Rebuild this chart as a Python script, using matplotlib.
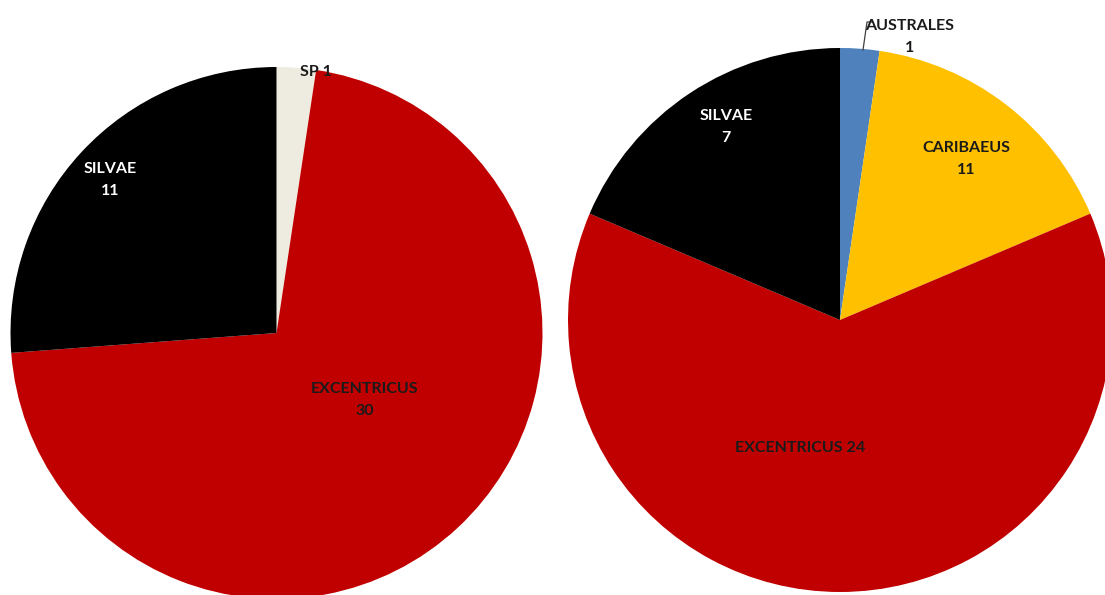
import matplotlib.pyplot as plt

# left pie
left_names = ["SP", "EXCENTRICUS", "SILVAE"]
left_sizes = [1, 30, 11]
left_labels = ["1", "30", "11"]
left_colors = ["#EEECE1", "#C00000", "#000000"]

right_names = ["AUSTRALES", "CARIBAEUS", "EXCENTRICUS", "SILVAE"]
right_sizes = [1, 7, 27, 8]
right_labels = ["1", "11", "24", "7"]
right_colors = ["#4F81BD", "#FFC000", "#C00000", "#000000"]

W, H = 1105, 595
fig = plt.figure(figsize=(W / 100, H / 100), dpi=100)
ax = fig.add_axes([0, 0, 1, 1])

font = dict(family=["Lato", "DejaVu Sans"], fontweight="bold", fontsize=11.5,
            ha="center", va="center", linespacing=1.75)

ax.pie(left_sizes, colors=left_colors, startangle=90, counterclock=False,
       center=(276.5, H - 333), radius=266, wedgeprops=dict(linewidth=0))
ax.pie(right_sizes, colors=right_colors, startangle=90, counterclock=False,
       center=(840, H - 320), radius=272, wedgeprops=dict(linewidth=0))

ax.set_xlim(0, W)
ax.set_ylim(0, H)
ax.set_aspect("equal")
ax.axis("off")

# left labels
ax.text(316, H - 72, f"{left_names[0]} {left_labels[0]}", color="#1a1a1a", **font)
ax.text(365, H - 400, f"{left_names[1]}\n{left_labels[1]}", color="#1a1a1a", **font)
ax.text(110, H - 180, f"{left_names[2]}\n{left_labels[2]}", color="white", **font)

# right labels
ax.text(910, H - 37, f"{right_names[0]}\n{right_labels[0]}", color="#1a1a1a", **font)
ax.plot([863, 867, 872], [H - 50, H - 22, H - 22], color="#404040", lw=0.9)
ax.text(966, H - 159, f"{right_names[1]}\n{right_labels[1]}", color="#1a1a1a", **font)
ax.text(800, H - 448, f"{right_names[2]} {right_labels[2]}", color="#1a1a1a", **font)
ax.text(726, H - 127, f"{right_names[3]}\n{right_labels[3]}", color="white", **font)

fig.savefig("out.png", dpi=100)
